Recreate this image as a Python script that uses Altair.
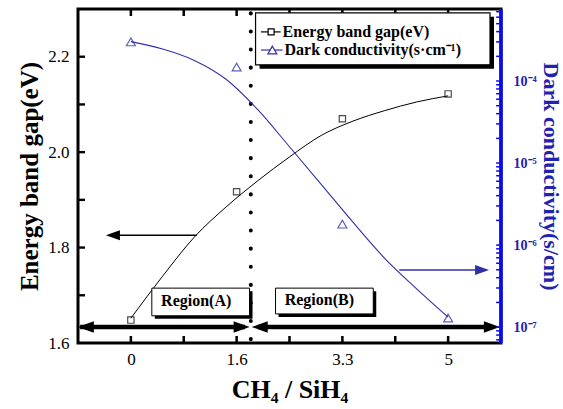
import altair as alt
import pandas as pd

# CH4/SiH4 gas ratio: samples sit at evenly spaced positions, labelled with nominal ratios
ratio_pos = [0, 5 / 3, 10 / 3, 5]
ratio_labels = ["0", "1.6", "3.3", "5"]
ratio_minor = [5 / 6, 2.5, 25 / 6]

# measured values
band_gap = [1.648, 1.917, 2.070, 2.122]            # eV
dark_cond = [3.0e-4, 1.48e-4, 1.8e-6, 1.29e-7]     # S/cm

# smooth guide curves drawn through the measurements
fit_x = [0, 0.5, 1, 1.5, 2, 2.5, 3, 3.5, 4, 4.5, 5]
band_gap_fit = [1.652, 1.740, 1.822, 1.885, 1.940, 1.990, 2.035, 2.065, 2.087, 2.105, 2.118]
dark_cond_fit = [3.02e-4, 2.45e-4, 1.78e-4, 1.05e-4, 4.47e-5, 1.58e-5,
                 5.5e-6, 1.9e-6, 6.9e-7, 2.95e-7, 1.32e-7]

# boundary between region A and region B
boundary_x = 1.89

X_DOMAIN = [-5 / 6, 35 / 6]
EG_DOMAIN = [1.6, 2.3]
SIGMA_DOMAIN = [6.4e-8, 7.55e-4]

FONT = "Liberation Serif"
BLUE_AXIS = "#0a0af0"
BLUE_TEXT = "#2222b0"
BLUE_LINE = "#3030a8"

# tick lengths, expressed in data units of each axis
X_TICK = 7 / 63.6
EG_TICK = 7 / 477


def xe(field):
    return alt.X(field, type="quantitative",
                 scale=alt.Scale(domain=X_DOMAIN, nice=False, zero=False))


def ye(field):
    return alt.Y(field, type="quantitative",
                 scale=alt.Scale(domain=EG_DOMAIN, nice=False, zero=False))


def ys(field):
    return alt.Y(field, type="quantitative",
                 scale=alt.Scale(type="log", domain=SIGMA_DOMAIN, nice=False))


# ---- axes: labels and titles; the inward ticks are drawn as marks below ----
x_ticks = sorted(ratio_pos + ratio_minor)
x_label_expr = " : ".join(
    f"abs(datum.value - ({p})) < 0.01 ? '{lab}'" for p, lab in zip(ratio_pos, ratio_labels)
) + " : ''"

x_axis = alt.Axis(
    values=x_ticks, labelExpr=x_label_expr, title="CH₄ / SiH₄", orient="bottom",
    domain=False, grid=False, ticks=False,
    labelFontSize=17, labelPadding=8, labelColor="black",
    titleFontSize=26, titleFontWeight="bold", titlePadding=9, titleColor="black",
)

eg_ticks = [1.6, 1.7, 1.8, 1.9, 2.0, 2.1, 2.2]
eg_axis = alt.Axis(
    values=eg_ticks,
    labelExpr="round(datum.value * 10) % 2 == 0 ? format(datum.value, '.1f') : ''",
    title="Energy band gap(eV)", orient="left",
    domain=False, grid=False, ticks=False,
    labelFontSize=17, labelPadding=9, labelColor="black",
    titleFontSize=25, titleFontWeight="bold", titlePadding=5, titleColor="black",
)

sigma_ticks = [k * 10.0 ** e for e in range(-8, -3) for k in range(1, 10)
               if SIGMA_DOMAIN[0] <= k * 10.0 ** e <= SIGMA_DOMAIN[1]]
sigma_label_expr = (
    "abs(log(datum.value) / LN10 - round(log(datum.value) / LN10)) < 0.02 ? "
    "'10⁻' + substring('⁰¹²³⁴⁵⁶⁷⁸⁹', -round(log(datum.value) / LN10), "
    "-round(log(datum.value) / LN10) + 1) : ''"
)
sigma_axis = alt.Axis(
    values=sigma_ticks, labelExpr=sigma_label_expr,
    title="Dark conductivity(s/cm)", orient="right",
    domain=False, grid=False, ticks=False,
    labelFontSize=14, labelFontWeight="bold", labelPadding=12, labelColor=BLUE_TEXT,
    titleFontSize=22, titleFontWeight="bold", titlePadding=2, titleColor=BLUE_TEXT,
)

# ---- data tables --------------------------------------------------------
eg_fit_df = pd.DataFrame({"x": fit_x, "eg": band_gap_fit})
eg_df = pd.DataFrame({"x": ratio_pos, "eg": band_gap})
sigma_fit_df = pd.DataFrame({"x": fit_x, "sigma": dark_cond_fit})
sigma_df = pd.DataFrame({"x": ratio_pos, "sigma": dark_cond})

# annotation geometry in data units (x: ratio axis, y: band-gap axis)
arrow_lines = pd.DataFrame({
    "x0": [1.04, 4.23, -0.80, 2.00],
    "x1": [-0.28, 5.53, 1.80, 5.70],
    "y": [1.826, 1.753, 1.6335, 1.6335],
    "color": ["black", BLUE_LINE, "black", "black"],
    "w": [1.5, 1.5, 4.5, 4.5],
})
head_right = "M1,0L-1,-0.72L-1,0.72Z"
head_left = "M-1,0L1,-0.72L1,0.72Z"
heads_left = pd.DataFrame({"x": [-0.283, -0.71, 2.03], "y": [1.826, 1.6335, 1.6335],
                           "color": ["black", "black", "black"], "s": [196, 256, 256]})
heads_right = pd.DataFrame({"x": [5.535, 1.745, 5.69], "y": [1.753, 1.6335, 1.6335],
                            "color": [BLUE_LINE, "black", "black"], "s": [196, 256, 256]})

region_boxes = pd.DataFrame({
    "x0": [0.33, 2.28], "x1": [1.87, 3.82],
    "y0": [1.715, 1.715], "y1": [1.657, 1.661],
})
region_text = pd.DataFrame({"x": [1.03, 2.97], "y": [1.688, 1.690],
                            "label": ["Region(A)", "Region(B)"]})

legend_box = pd.DataFrame({"x0": [1.965], "x1": [5.66], "y0": [2.292], "y1": [2.183]})
legend_rows = pd.DataFrame({
    "x0": [2.05, 2.05], "x1": [2.36, 2.39], "xm": [2.21, 2.23],
    "y": [2.252, 2.214],
    "label": ["Energy band gap(eV)", "Dark conductivity(s·cm⁻¹)"],
})

# inward tick marks on the black frame, drawn as thin rectangles
tick_rows = []
for v in x_ticks:
    tick_rows.append({"x0": v - 0.02, "x1": v + 0.02,
                      "y0": EG_DOMAIN[0], "y1": EG_DOMAIN[0] + EG_TICK})
    tick_rows.append({"x0": v - 0.02, "x1": v + 0.02,
                      "y0": EG_DOMAIN[1], "y1": EG_DOMAIN[1] - EG_TICK})
for v in eg_ticks[1:]:
    tick_rows.append({"x0": X_DOMAIN[0], "x1": X_DOMAIN[0] + X_TICK,
                      "y0": v - 0.0025, "y1": v + 0.0025})
frame_ticks = pd.DataFrame(tick_rows)

# inward ticks on the blue logarithmic axis
right_ticks = pd.DataFrame({"y": sigma_ticks,
                            "x0": [X_DOMAIN[1] - X_TICK * 0.7] * len(sigma_ticks),
                            "x1": [X_DOMAIN[1]] * len(sigma_ticks)})

# ---- band-gap layers (left axis) ----------------------------------------
eg_curve = alt.Chart(eg_fit_df).mark_line(
    color="black", strokeWidth=1, interpolate="monotone"
).encode(
    x=alt.X("x", type="quantitative",
            scale=alt.Scale(domain=X_DOMAIN, nice=False, zero=False), axis=x_axis),
    y=alt.Y("eg", type="quantitative",
            scale=alt.Scale(domain=EG_DOMAIN, nice=False, zero=False), axis=eg_axis),
)

eg_points = alt.Chart(eg_df).mark_point(
    shape="square", filled=False, color="black", size=40, strokeWidth=1.2
).encode(x=xe("x"), y=ye("eg"))

boundary = alt.Chart(pd.DataFrame({"x": [boundary_x], "y0": [2.3], "y1": [1.6]})).mark_rule(
    color="black", strokeWidth=4, strokeCap="round", strokeDash=[0.1, 18], strokeDashOffset=-4.3
).encode(x=xe("x"), y=ye("y0"), y2=alt.Y2("y1"))

tick_marks = alt.Chart(frame_ticks).mark_rect(color="black", opacity=1).encode(
    x=xe("x0"), x2=alt.X2("x1"), y=ye("y0"), y2=alt.Y2("y1"))

arrows = alt.Chart(arrow_lines).mark_rule().encode(
    x=xe("x0"), x2=alt.X2("x1"), y=ye("y"),
    color=alt.Color("color", type="nominal", scale=None),
    strokeWidth=alt.StrokeWidth("w", type="quantitative", scale=None),
)
arrow_heads_l = alt.Chart(heads_left).mark_point(
    shape=head_left, filled=True, opacity=1, strokeWidth=0
).encode(x=xe("x"), y=ye("y"),
         color=alt.Color("color", type="nominal", scale=None),
         size=alt.Size("s", type="quantitative", scale=None))
arrow_heads_r = alt.Chart(heads_right).mark_point(
    shape=head_right, filled=True, opacity=1, strokeWidth=0
).encode(x=xe("x"), y=ye("y"),
         color=alt.Color("color", type="nominal", scale=None),
         size=alt.Size("s", type="quantitative", scale=None))

region_shadow = alt.Chart(region_boxes).mark_rect(
    color="black", xOffset=3, x2Offset=3, yOffset=3, y2Offset=3
).encode(x=xe("x0"), x2=alt.X2("x1"), y=ye("y0"), y2=alt.Y2("y1"))
region_rect = alt.Chart(region_boxes).mark_rect(
    fill="white", stroke="black", strokeWidth=1
).encode(x=xe("x0"), x2=alt.X2("x1"), y=ye("y0"), y2=alt.Y2("y1"))
region_labels = alt.Chart(region_text).mark_text(
    fontSize=16, fontWeight="bold", color="black", align="center", baseline="middle"
).encode(x=xe("x"), y=ye("y"), text="label")

legend_shadow = alt.Chart(legend_box).mark_rect(
    color="black", xOffset=4, x2Offset=4, yOffset=4, y2Offset=4
).encode(x=xe("x0"), x2=alt.X2("x1"), y=ye("y0"), y2=alt.Y2("y1"))
legend_rect = alt.Chart(legend_box).mark_rect(
    fill="white", stroke="black", strokeWidth=1.2
).encode(x=xe("x0"), x2=alt.X2("x1"), y=ye("y0"), y2=alt.Y2("y1"))

legend_lines = alt.Chart(legend_rows).mark_rule(strokeWidth=1.2).encode(
    x=xe("x0"), x2=alt.X2("x1"), y=ye("y"),
    color=alt.Color("label", type="nominal",
                    scale=alt.Scale(domain=list(legend_rows["label"]),
                                    range=["black", BLUE_LINE]), legend=None),
)
legend_sym = alt.Chart(legend_rows).mark_point(
    filled=True, fill="white", strokeWidth=1.2, opacity=1
).encode(
    x=xe("xm"), y=ye("y"),
    shape=alt.Shape("label", type="nominal",
                    scale=alt.Scale(domain=list(legend_rows["label"]),
                                    range=["square", "triangle-up"]), legend=None),
    stroke=alt.Stroke("label", type="nominal",
                      scale=alt.Scale(domain=list(legend_rows["label"]),
                                      range=["black", BLUE_LINE]), legend=None),
    size=alt.Size("label", type="nominal",
                  scale=alt.Scale(domain=list(legend_rows["label"]), range=[36, 80]),
                  legend=None),
)
legend_text = alt.Chart(legend_rows).mark_text(
    fontSize=16, fontWeight="bold", color="black", align="left", baseline="middle", dx=2
).encode(x=xe("x1"), y=ye("y"), text="label")

right_frame = alt.Chart(pd.DataFrame({"x": [X_DOMAIN[1]], "y0": [1.6], "y1": [2.3]})).mark_rule(
    color=BLUE_AXIS, strokeWidth=3.5
).encode(x=xe("x"), y=ye("y0"), y2=alt.Y2("y1"))

left_group = alt.layer(
    eg_curve, eg_points, boundary, tick_marks, arrows, arrow_heads_l, arrow_heads_r,
    region_shadow, region_rect, region_labels,
    legend_shadow, legend_rect, legend_lines, legend_sym, legend_text, right_frame,
)

# ---- conductivity layers (right, logarithmic axis) ----------------------
sigma_curve = alt.Chart(sigma_fit_df).mark_line(
    color=BLUE_LINE, strokeWidth=1.1, interpolate="monotone"
).encode(
    x=xe("x"),
    y=alt.Y("sigma", type="quantitative",
            scale=alt.Scale(type="log", domain=SIGMA_DOMAIN, nice=False), axis=sigma_axis),
)
sigma_points = alt.Chart(sigma_df).mark_point(
    shape="triangle-up", filled=False, color="#1a1aa0", size=80, strokeWidth=1.2
).encode(x=xe("x"), y=ys("sigma"))
sigma_tick = alt.Chart(right_ticks).mark_rule(color=BLUE_AXIS, strokeWidth=1.5).encode(
    x=xe("x0"), x2=alt.X2("x1"), y=ys("y"))

right_group = alt.layer(sigma_curve, sigma_points, sigma_tick)

chart = alt.layer(left_group, right_group).resolve_scale(y="independent").properties(
    width=423, height=334,
    autosize=alt.AutoSizeParams(type="none"),
    padding={"left": 78, "top": 9, "right": 62, "bottom": 66},
).configure(font=FONT).configure_view(
    stroke="black", strokeWidth=3
).configure_axis(grid=False)

chart.save("out.html", embed_options={"renderer": "svg", "actions": False})
